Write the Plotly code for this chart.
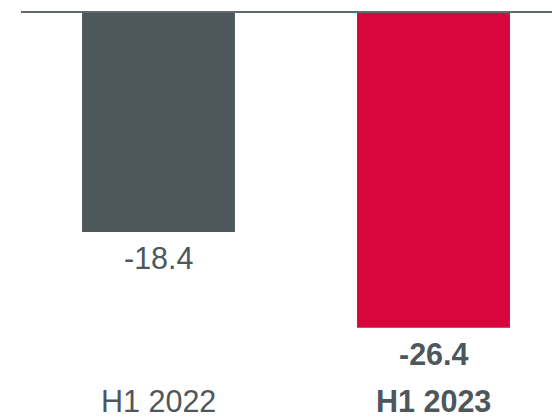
import plotly.graph_objects as go

categories = ["H1 2022", "H1 2023"]
values = [-18.4, -26.4]
bar_colors = ["#4D575C", "#D7063C"]
label_bold = [False, True]

text_color = "#4D575C"
font_family = "Arial, Liberation Sans, sans-serif"

fig = go.Figure(
    go.Bar(
        x=categories,
        y=values,
        marker=dict(color=bar_colors, line=dict(width=0)),
        width=0.556,
        hoverinfo="skip",
    )
)

annotations = []
for cat, val, bold in zip(categories, values, label_bold):
    value_text = f"{val:.1f}"
    cat_text = cat
    if bold:
        value_text = f"<b>{value_text}</b>"
        cat_text = f"<b>{cat_text}</b>"
    # value label under the bar end
    annotations.append(dict(
        x=cat, y=val, xref="x", yref="y", text=value_text, showarrow=False,
        yanchor="middle", yshift=-26,
        font=dict(family=font_family, size=30.5, color=text_color),
    ))
    # category label along the bottom
    annotations.append(dict(
        x=cat, y=19 / 420, xref="x", yref="paper", text=cat_text, showarrow=False,
        yanchor="middle",
        font=dict(family=font_family, size=30.5, color=text_color),
    ))

fig.update_layout(
    width=552,
    height=420,
    margin=dict(l=21, r=0, t=0, b=0),
    paper_bgcolor="white",
    plot_bgcolor="white",
    showlegend=False,
    xaxis=dict(
        range=[-0.5, -0.5 + 531 / 275],
        showticklabels=False, showgrid=False, zeroline=False, showline=False,
        fixedrange=True,
    ),
    yaxis=dict(
        range=[-34.11, 1.0],
        showticklabels=False, showgrid=False, zeroline=False, showline=False,
        fixedrange=True,
    ),
    annotations=annotations,
    shapes=[dict(
        type="line", xref="paper", yref="y", x0=0, x1=1, y0=0, y1=0,
        line=dict(color="#636A6E", width=2), layer="above",
    )],
)

fig.write_html("out.html", config={"displayModeBar": False})
